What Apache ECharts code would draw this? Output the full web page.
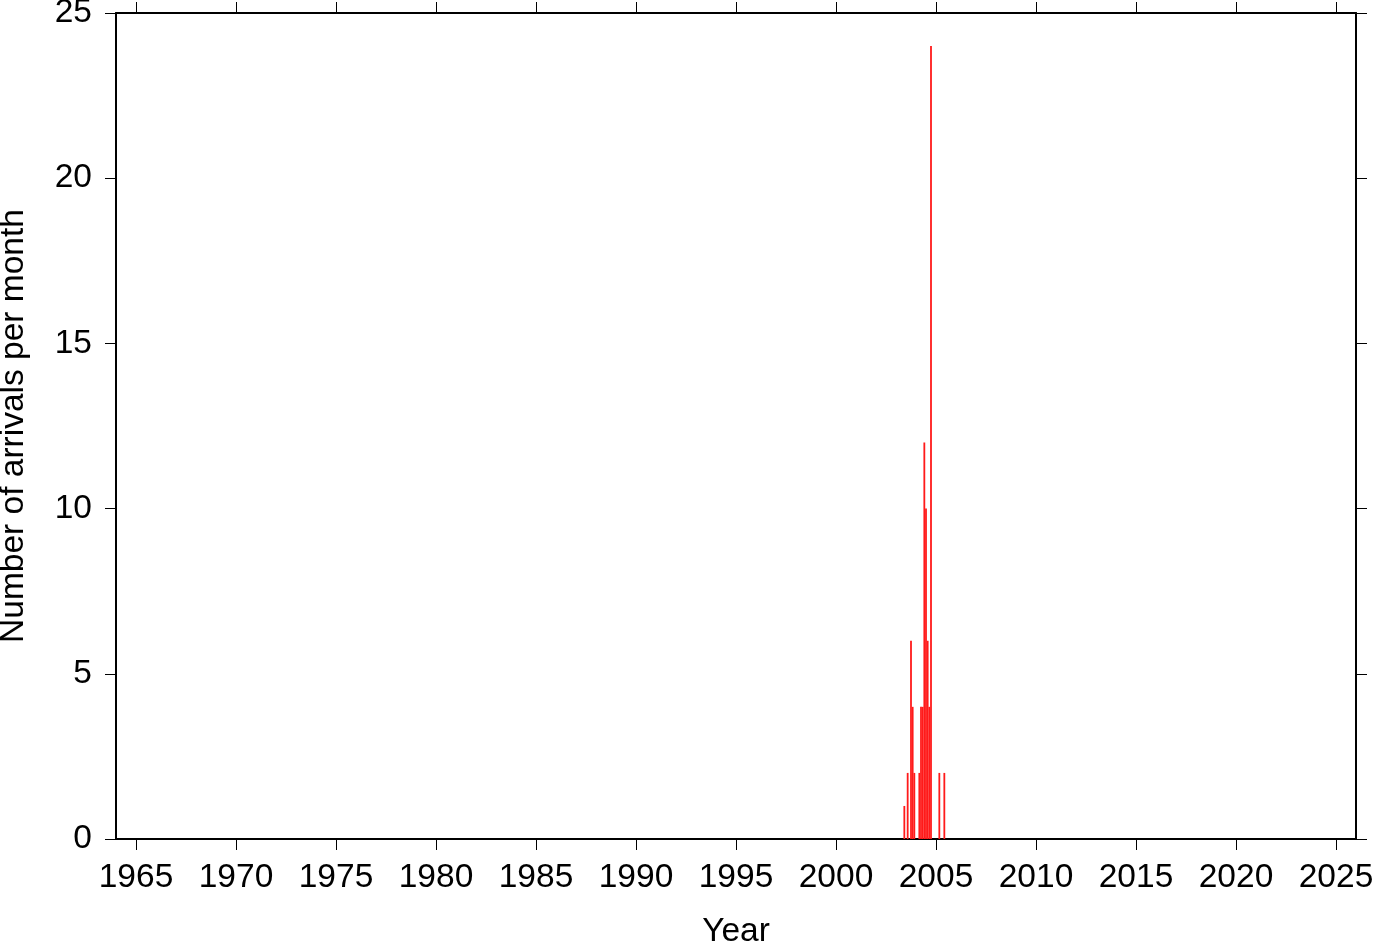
<!DOCTYPE html>
<html>
<head>
<meta charset="utf-8">
<script src="https://cdn.jsdelivr.net/npm/echarts@6/dist/echarts.min.js"></script>
<style>html,body{margin:0;padding:0;background:#fff;}#chart{width:1382px;height:942px;}</style>
</head>
<body>
<div id="chart"></div>
<script>
// Monthly arrival counts (year, month 1-12, count)
const barYears  = [2003, 2003, 2003, 2003, 2003, 2004, 2004, 2004, 2004, 2004, 2004, 2004, 2004, 2005, 2005];
const barMonths = [5,    7,    9,    10,   11,   2,    3,    4,    5,    6,    7,    8,    9,    2,    5];
const barCounts = [1,    2,    6,    4,    2,    2,    4,    4,    12,   10,   6,    4,    24,   2,    2];
const yearTicks = [1965,1970,1975,1980,1985,1990,1995,2000,2005,2010,2015,2020,2025];
const xTitle = 'Year';
const yTitle = 'Number of arrivals per month';

const barData = barCounts.map((c, i) => [barYears[i] + barMonths[i] / 12, c]);

const font = '"Liberation Sans", Arial, sans-serif';
const FS = 33.5;
const chart = echarts.init(document.getElementById('chart'), null, {renderer: 'canvas'});
const commonX = {
  type: 'value', min: 1964, max: 2026,
  axisLine: {show: true, onZero: false, lineStyle: {color: '#000', width: 2}},
  axisTick: {show: true, customValues: yearTicks, length: 11, lineStyle: {color: '#000', width: 1}},
  splitLine: {show: false}
};
const commonY = {
  type: 'value', min: 0, max: 25, interval: 5,
  axisLine: {show: true, onZero: false, lineStyle: {color: '#000', width: 2}},
  axisTick: {show: true, length: 11, lineStyle: {color: '#000', width: 1}},
  splitLine: {show: false}
};
chart.setOption({
  animation: false,
  backgroundColor: '#fff',
  grid: {left: 116, right: 26, top: 13, bottom: 103, containLabel: false, outerBoundsMode: 'none'},
  xAxis: [
    Object.assign({}, commonX, {
      position: 'bottom',
      name: xTitle, nameLocation: 'middle', nameGap: 76,
      nameTextStyle: {fontFamily: font, fontSize: FS, color: '#000'},
      axisLabel: {show: true, customValues: yearTicks, margin: 22, fontFamily: font, fontSize: FS, color: '#000',
                  formatter: v => String(v)}
    }),
    Object.assign({}, commonX, {position: 'top', axisLabel: {show: false}})
  ],
  yAxis: [
    Object.assign({}, commonY, {
      position: 'left',
      name: yTitle, nameLocation: 'middle', nameGap: 85,
      nameTextStyle: {fontFamily: font, fontSize: FS, color: '#000'},
      axisLabel: {show: true, margin: 24, fontFamily: font, fontSize: FS, color: '#000'}
    }),
    Object.assign({}, commonY, {position: 'right', axisLabel: {show: false}})
  ],
  series: [{
    type: 'bar',
    xAxisIndex: 0, yAxisIndex: 0,
    data: barData,
    barWidth: 1.8,
    itemStyle: {color: '#ff1a1a'},
    silent: true
  }]
});
</script>
</body>
</html>
